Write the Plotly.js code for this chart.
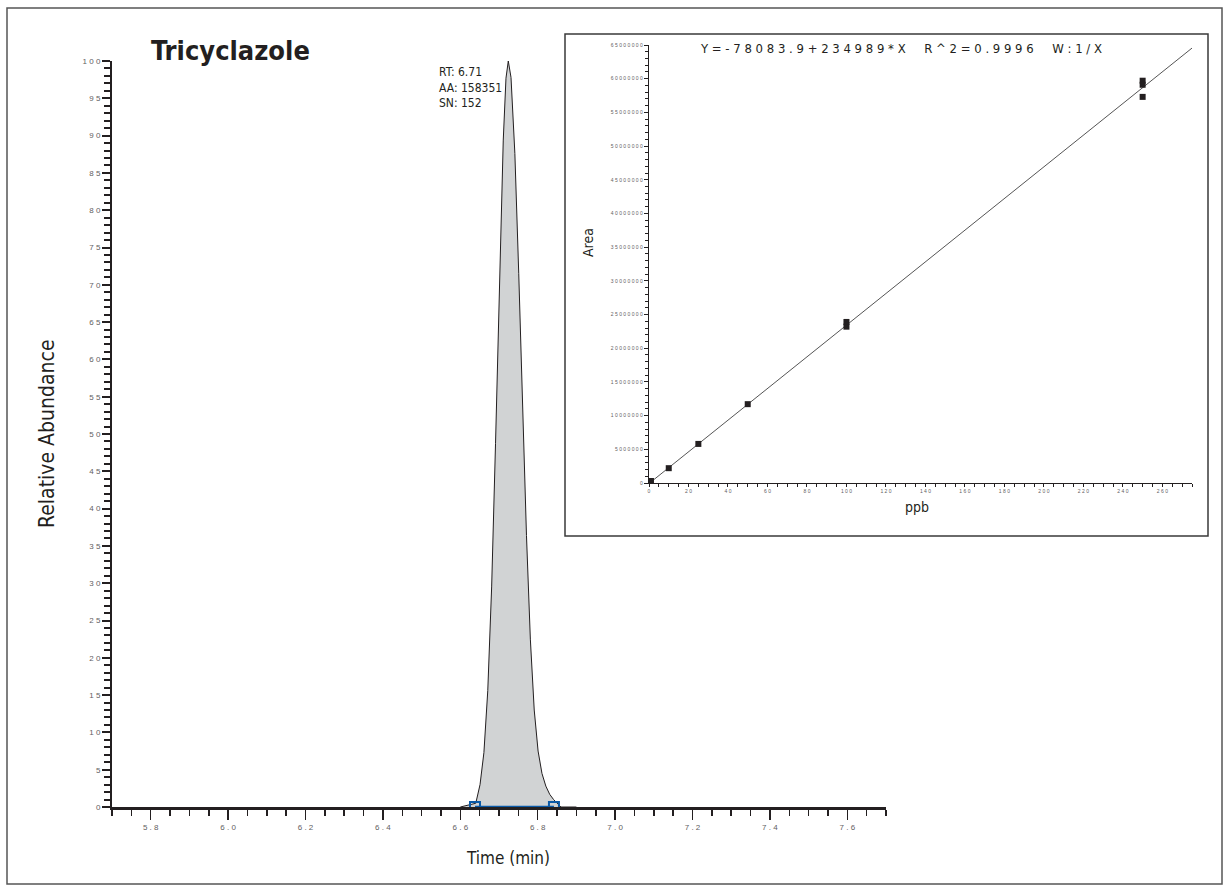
<!DOCTYPE html>
<html><head><meta charset="utf-8">
<script src="https://cdn.plot.ly/plotly-3.0.1.min.js"></script>
<style>html,body{margin:0;padding:0;background:#fff;} #chart{width:1229px;height:892px;}</style>
</head><body><div id="chart"></div>
<script>
// ---- chromatogram (Tricyclazole) ----
const peakTime = [6.600, 6.640, 6.651, 6.661, 6.671, 6.681, 6.691, 6.701, 6.711, 6.718, 6.724, 6.731, 6.741, 6.751, 6.761, 6.771, 6.781, 6.791, 6.801, 6.811, 6.821, 6.831, 6.841, 6.851, 6.860, 6.900];
const peakAbundance = [0, 0.5, 3.0, 7.3, 15.6, 29.5, 48.7, 70.5, 89.4, 97.7, 100, 97.8, 87.6, 71.5, 53.4, 36.4, 22.5, 13, 7.5, 4.5, 2.8, 1.7, 1.0, 0.5, 0, 0];
const integrationTime = [6.638, 6.842];
const integrationLevel = [0, 0];
const yTickValues = [0, 5, 10, 15, 20, 25, 30, 35, 40, 45, 50, 55, 60, 65, 70, 75, 80, 85, 90, 95, 100];
const xTickValues = [5.8, 6.0, 6.2, 6.4, 6.6, 6.8, 7.0, 7.2, 7.4, 7.6];
const peakLabels = ["RT: 6.71", "AA: 158351", "SN: 152"];

// ---- calibration curve (inset) ----
const calPpb = [1, 10, 25, 50, 100, 100, 250, 250, 250];
const calArea = [300000, 2200000, 5800000, 11700000, 23200000, 23900000, 59700000, 59100000, 57300000];
const fitIntercept = -78083.9;
const fitSlope = 234989;
const fitRangePpb = [0.3, 276];
const insetYTicks = [0, 5000000, 10000000, 15000000, 20000000, 25000000, 30000000, 35000000, 40000000, 45000000, 50000000, 55000000, 60000000, 65000000];
const insetXTicks = [0, 20, 40, 60, 80, 100, 120, 140, 160, 180, 200, 220, 240, 260];
const equationText = "Y = -78083.9+234989*X   R^2 = 0.9996   W:1/X";

const W = 1229, H = 892;
const px = x => x / W;
const py = y => 1 - y / H;
const spaced = s => s.split('').join(' ');
const NARROW = '"Liberation Sans Narrow", "DejaVu Sans Condensed", "Arial Narrow", sans-serif';
const TICKF = 'Liberation Sans, Arial, sans-serif';
const INK = '#231f20';
const GRAY = '#5f6062';

const eqSpaced = equationText.split('   ').map(part => part.split('').filter(c => c !== ' ').join(' ')).join('\u00a0\u00a0\u00a0\u00a0\u00a0');

const traces = [
  {x: peakTime, y: peakAbundance, type: 'scatter', mode: 'lines', fill: 'tozeroy',
   fillcolor: '#d1d3d4', line: {color: INK, width: 1}, xaxis: 'x', yaxis: 'y', hoverinfo: 'skip'},
  {x: integrationTime, y: integrationLevel, type: 'scatter', mode: 'lines+markers',
   line: {color: '#0a5aa8', width: 2.5}, marker: {symbol: 'square-open', size: 10, color: '#0a5aa8', line: {width: 2, color: '#0a5aa8'}},
   xaxis: 'x', yaxis: 'y'},
  {x: fitRangePpb, y: fitRangePpb.map(v => fitIntercept + fitSlope * v), type: 'scatter', mode: 'lines',
   line: {color: '#555555', width: 1}, xaxis: 'x2', yaxis: 'y2'},
  {x: calPpb, y: calArea, type: 'scatter', mode: 'markers',
   marker: {symbol: 'square', size: 6, color: INK}, xaxis: 'x2', yaxis: 'y2'}
];

const layout = {
  width: W, height: H, margin: {l: 0, r: 0, t: 0, b: 0},
  paper_bgcolor: '#ffffff', plot_bgcolor: 'rgba(0,0,0,0)', showlegend: false,
  xaxis: {domain: [px(112), px(886)], range: [5.7, 7.7], anchor: 'y',
    tickvals: xTickValues, ticktext: xTickValues.map(v => spaced(v.toFixed(1))),
    ticks: 'outside', ticklen: 10, tickwidth: 1.5, tickcolor: INK,
    minor: {dtick: 0.05, ticks: 'outside', ticklen: 6, tickwidth: 1.5, tickcolor: INK, showgrid: false},
    showline: true, linewidth: 3, linecolor: INK, showgrid: false, zeroline: false,
    tickfont: {family: TICKF, size: 8, color: GRAY}, layer: 'below traces'},
  yaxis: {domain: [py(807), py(61)], range: [0, 100], anchor: 'x',
    tickvals: yTickValues, ticktext: yTickValues.map(v => spaced(String(v))),
    ticks: 'outside', ticklen: 8, tickwidth: 2, tickcolor: INK,
    minor: {dtick: 1, ticks: 'outside', ticklen: 6, tickwidth: 2, tickcolor: INK, showgrid: false},
    showline: true, linewidth: 2, linecolor: INK, showgrid: false, zeroline: false,
    tickfont: {family: TICKF, size: 8, color: GRAY}},
  xaxis2: {domain: [px(649), px(1192)], range: [0, 275], anchor: 'y2',
    tickvals: insetXTicks, ticktext: insetXTicks.map(v => spaced(String(v))),
    ticks: 'outside', ticklen: 3, tickwidth: 1, tickcolor: INK,
    minor: {dtick: 5, ticks: 'outside', ticklen: 3, tickwidth: 1, tickcolor: INK, showgrid: false},
    showline: true, linewidth: 1.2, linecolor: INK, showgrid: false, zeroline: false,
    tickfont: {family: TICKF, size: 5, color: GRAY}},
  xaxis3: {domain: [px(649), px(1192)], range: [0, 275], anchor: 'y2', overlaying: 'x2',
    tickvals: insetXTicks, showticklabels: false,
    ticks: 'inside', ticklen: 4, tickwidth: 1, tickcolor: INK,
    minor: {dtick: 5, ticks: 'inside', ticklen: 4, tickwidth: 1, tickcolor: INK, showgrid: false},
    showline: false, showgrid: false, zeroline: false},
  yaxis2: {domain: [py(483), py(45)], range: [0, 65000000], anchor: 'x2',
    tickvals: insetYTicks, ticktext: insetYTicks.map(v => spaced(String(v))),
    ticks: 'outside', ticklen: 4, tickwidth: 1, tickcolor: INK,
    minor: {dtick: 1000000, ticks: 'outside', ticklen: 3, tickwidth: 1, tickcolor: INK, showgrid: false},
    showline: true, linewidth: 1.2, linecolor: INK, showgrid: false, zeroline: false,
    tickfont: {family: TICKF, size: 5, color: GRAY}},
  shapes: [
    {type: 'rect', xref: 'paper', yref: 'paper', x0: px(7), x1: px(1222), y0: py(884), y1: py(8),
     line: {color: '#555555', width: 1.5}, fillcolor: 'rgba(0,0,0,0)', layer: 'below'},
    {type: 'rect', xref: 'paper', yref: 'paper', x0: px(565), x1: px(1208), y0: py(536), y1: py(34),
     line: {color: '#3a3a3a', width: 1.5}, fillcolor: '#ffffff', layer: 'below'}
  ],
  annotations: [
    {text: '<b>Tricyclazole</b>', xref: 'paper', yref: 'paper', x: px(230), y: py(50), showarrow: false,
     font: {family: NARROW, size: 27, color: INK}, xanchor: 'center', yanchor: 'middle'},
    {text: peakLabels.join('<br>'), xref: 'paper', yref: 'paper', x: px(437), y: py(88), showarrow: false,
     align: 'left', xanchor: 'left', yanchor: 'middle',
     font: {family: NARROW, size: 12, color: INK}},
    {text: 'Time (min)', xref: 'paper', yref: 'paper', x: px(508), y: py(858), showarrow: false,
     font: {family: NARROW, size: 17, color: INK}, xanchor: 'center', yanchor: 'middle'},
    {text: 'Relative Abundance', xref: 'paper', yref: 'paper', x: px(47), y: py(434), showarrow: false,
     textangle: -90, font: {family: NARROW, size: 21, color: INK}, xanchor: 'center', yanchor: 'middle'},
    {text: 'Area', xref: 'paper', yref: 'paper', x: px(588), y: py(243), showarrow: false,
     textangle: -90, font: {family: NARROW, size: 14, color: INK}, xanchor: 'center', yanchor: 'middle'},
    {text: 'ppb', xref: 'paper', yref: 'paper', x: px(917), y: py(507), showarrow: false,
     font: {family: NARROW, size: 14, color: INK}, xanchor: 'center', yanchor: 'middle'},
    {text: eqSpaced, xref: 'paper', yref: 'paper', x: px(901), y: py(49), showarrow: false,
     font: {family: NARROW, size: 13, color: INK}, xanchor: 'center', yanchor: 'middle'}
  ]
};

Plotly.newPlot('chart', traces, layout, {staticPlot: true, displayModeBar: false});
</script></body></html>
